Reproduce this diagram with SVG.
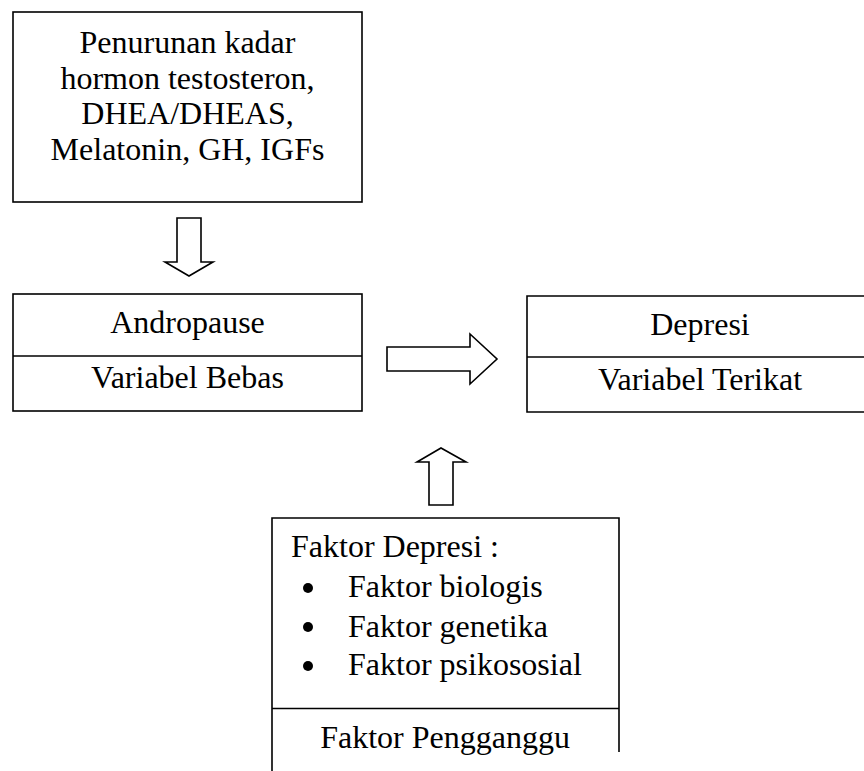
<svg xmlns="http://www.w3.org/2000/svg" width="864" height="771" viewBox="0 0 864 771">
<style>
.box{fill:none;stroke:#000;stroke-width:1.6}
.ln{stroke:#000;stroke-width:1.6;fill:none}
.arr{fill:#fff;stroke:#000;stroke-width:1.6;stroke-linejoin:miter}
text{font-family:"Liberation Serif","Times New Roman",serif;font-size:32px;fill:#000}
.c{text-anchor:middle}
</style>
<rect width="864" height="771" fill="#fff"/>
<g id="hormon">
<rect class="box" x="13" y="12" width="349" height="190"/>
<text class="c" x="187.5" y="53">Penurunan kadar</text>
<text class="c" x="187.5" y="88.5">hormon testosteron,</text>
<text class="c" x="187.5" y="124">DHEA/DHEAS,</text>
<text class="c" x="187.5" y="160">Melatonin, GH, IGFs</text>
</g>
<g id="andropause">
<rect class="box" x="13" y="294" width="349" height="117"/>
<line class="ln" x1="13" y1="356" x2="362" y2="356"/>
<text class="c" x="187.5" y="333">Andropause</text>
<text class="c" x="187.5" y="388">Variabel Bebas</text>
</g>
<g id="depresi">
<path class="ln" d="M866,296 H527 V412 H866"/>
<line class="ln" x1="527" y1="357" x2="866" y2="357"/>
<text class="c" x="700" y="335">Depresi</text>
<text class="c" x="700" y="390">Variabel Terikat</text>
</g>
<g id="faktor">
<path class="ln" d="M272,773 V518 H619 V752"/>
<line class="ln" x1="272" y1="708.5" x2="619" y2="708.5"/>
<text x="291" y="557">Faktor Depresi :</text>
<circle cx="308" cy="588" r="5"/>
<circle cx="308" cy="627" r="5"/>
<circle cx="308" cy="666" r="5"/>
<text x="348" y="597">Faktor biologis</text>
<text x="348" y="637">Faktor genetika</text>
<text x="348" y="675">Faktor psikososial</text>
<text class="c" x="445" y="748">Faktor Pengganggu</text>
</g>
<g id="connectors">
<polygon class="arr" points="177,218 201,218 201,262 213,262 189,276 165,262 177,262"/>
<polygon class="arr" points="387,347 470,347 470,334 497,359 470,384 470,371 387,371"/>
<polygon class="arr" points="429,505 453,505 453,462 466,462 441,448 417,462 429,462"/>
</g>
</svg>
